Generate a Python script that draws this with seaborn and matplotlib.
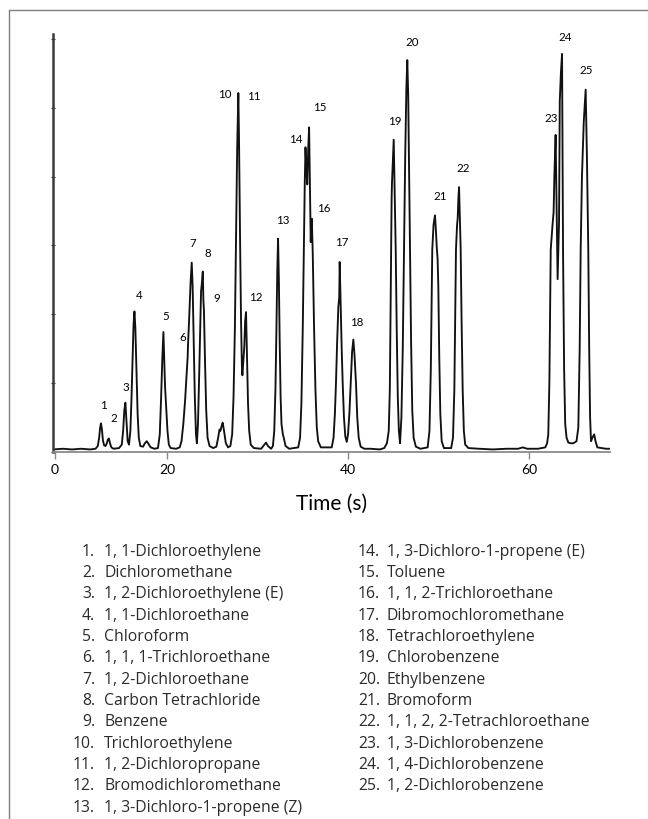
# Chromatogram of 25 volatile organic compounds with numbered peaks
import numpy as np
import pandas as pd
import matplotlib
matplotlib.use("Agg")
import matplotlib.pyplot as plt
from matplotlib.lines import Line2D
import seaborn as sns

# ==========================
# DATA
# ==========================

# detector trace: (time in s, signal in axis units)
trace = [
    (7.4, 0.03), (8.5, 0.04), (9.5, 0.03), (10.5, 0.04), (11.5, 0.03), (12.1, 0.04),
    # peaks 1, 2
    (12.35, 0.08), (12.5, 0.2), (12.6, 0.34), (12.7, 0.41), (12.8, 0.33), (12.92, 0.16),
    (13.05, 0.09), (13.2, 0.08), (13.35, 0.12), (13.45, 0.17), (13.58, 0.19), (13.7, 0.12),
    (13.85, 0.06), (14.1, 0.04),
    # peaks 3, 4
    (14.7, 0.05), (15.0, 0.1), (15.15, 0.3), (15.28, 0.6), (15.4, 0.71), (15.52, 0.45),
    (15.65, 0.15), (15.8, 0.1), (15.95, 0.3), (16.08, 0.8), (16.2, 1.4), (16.3, 1.85),
    (16.4, 2.04), (16.5, 1.8), (16.62, 1.2), (16.75, 0.55), (16.88, 0.2), (17.05, 0.08),
    (17.35, 0.07), (17.55, 0.12), (17.76, 0.15), (17.95, 0.11), (18.2, 0.06), (18.6, 0.04),
    # peak 5
    (19.0, 0.05), (19.2, 0.25), (19.35, 0.8), (19.48, 1.35), (19.6, 1.74), (19.7, 1.3),
    (19.78, 0.95), (19.82, 0.85), (19.92, 0.6), (20.05, 0.3), (20.2, 0.1), (20.4, 0.05),
    (21.0, 0.04),
    # peaks 6, 7
    (21.4, 0.06), (21.6, 0.15), (21.8, 0.4), (22.0, 0.75), (22.15, 1.1), (22.28, 1.38),
    (22.32, 1.55), (22.45, 1.95), (22.6, 2.45), (22.73, 2.75), (22.83, 2.4), (22.95, 1.6),
    (23.07, 0.8), (23.2, 0.25), (23.3, 0.12),
    # peaks 8, 9
    (23.42, 0.4), (23.55, 1.1), (23.68, 1.9), (23.76, 2.33), (23.85, 2.45), (23.95, 2.62),
    (24.02, 2.2), (24.08, 2.05), (24.2, 1.3), (24.33, 0.6), (24.48, 0.2), (24.7, 0.08),
    (25.1, 0.05), (25.45, 0.07), (25.65, 0.2), (25.8, 0.32), (25.9, 0.3), (26.05, 0.38),
    (26.15, 0.42), (26.3, 0.3), (26.5, 0.12), (26.75, 0.06),
    # peaks 10, 11, 12
    (27.0, 0.08), (27.2, 0.25), (27.35, 0.8), (27.5, 1.8), (27.62, 3.0), (27.75, 4.4),
    (27.88, 5.22), (27.95, 4.6), (27.99, 4.06), (28.08, 3.0), (28.18, 1.9), (28.28, 1.2),
    (28.33, 1.11), (28.42, 1.3), (28.54, 1.53), (28.63, 1.9), (28.73, 2.03), (28.82, 1.5),
    (28.95, 0.7), (29.08, 0.3), (29.25, 0.1), (29.6, 0.05),
    (30.4, 0.04), (30.7, 0.09), (30.94, 0.13), (31.15, 0.08), (31.5, 0.04),
    # peak 13
    (31.7, 0.08), (31.85, 0.3), (31.98, 0.9), (32.08, 1.7), (32.18, 2.6), (32.27, 3.1),
    (32.36, 2.5), (32.45, 1.6), (32.55, 0.8), (32.65, 0.4), (32.8, 0.25), (32.9, 0.2),
    (33.1, 0.08), (33.5, 0.04),
    # peaks 14, 15, 16
    (34.5, 0.06), (34.7, 0.2), (34.85, 0.7), (35.0, 1.8), (35.12, 3.0), (35.22, 3.9),
    (35.3, 4.43), (35.4, 4.1), (35.5, 3.89), (35.6, 4.4), (35.7, 4.72), (35.8, 3.8),
    (35.88, 3.05), (35.95, 3.3), (36.0, 3.39), (36.1, 2.9), (36.25, 1.8), (36.4, 0.9),
    (36.55, 0.35), (36.7, 0.15), (37.0, 0.06),
    # peaks 17, 18
    (38.2, 0.06), (38.4, 0.2), (38.55, 0.55), (38.67, 1.0), (38.8, 1.6), (38.93, 2.1),
    (39.0, 2.2), (39.03, 2.25), (39.08, 2.76), (39.18, 2.2), (39.3, 1.5), (39.41, 1.0),
    (39.55, 0.5), (39.7, 0.22), (39.86, 0.14), (40.0, 0.25), (40.15, 0.55), (40.3, 1.0),
    (40.45, 1.45), (40.59, 1.63), (40.72, 1.4), (40.88, 1.0), (41.02, 0.5), (41.18, 0.2),
    (41.4, 0.07), (41.8, 0.04), (42.5, 0.04), (43.5, 0.03),
    # peaks 19, 20
    (44.0, 0.05), (44.3, 0.12), (44.5, 0.3), (44.62, 0.9), (44.7, 2.0), (44.76, 2.94),
    (44.82, 3.7), (44.86, 3.92), (44.95, 4.2), (45.05, 4.54), (45.15, 3.8), (45.27, 2.94),
    (45.38, 1.8), (45.5, 0.8), (45.62, 0.3), (45.75, 0.12), (45.9, 0.5), (46.05, 1.5),
    (46.19, 2.94), (46.32, 4.3), (46.45, 5.3), (46.55, 5.7), (46.65, 5.2), (46.75, 4.1),
    (46.85, 2.94), (46.97, 1.6), (47.1, 0.6), (47.25, 0.2), (47.5, 0.07), (48.0, 0.04),
    # peaks 21, 22
    (48.8, 0.06), (49.0, 0.3), (49.15, 1.2), (49.31, 2.94), (49.45, 3.3), (49.61, 3.44),
    (49.72, 3.2), (49.8, 2.99), (49.9, 2.8), (49.98, 2.4), (50.08, 1.4), (50.2, 0.55),
    (50.35, 0.15), (50.6, 0.05), (51.4, 0.05), (51.6, 0.2), (51.75, 0.9), (51.85, 2.0),
    (51.93, 2.94), (52.05, 3.3), (52.12, 3.4), (52.2, 3.7), (52.27, 3.85), (52.36, 3.4),
    (52.45, 2.94), (52.55, 1.9), (52.67, 0.9), (52.8, 0.3), (52.95, 0.1), (53.3, 0.05),
    (54.5, 0.04), (56.0, 0.03), (57.5, 0.04), (58.8, 0.04), (59.3, 0.06), (59.8, 0.04),
    (61.0, 0.04),
    # peaks 23, 24
    (61.8, 0.06), (62.0, 0.12), (62.13, 0.25), (62.25, 1.0), (62.4, 2.94), (62.6, 3.3),
    (62.72, 3.49), (62.8, 4.0), (62.94, 4.61), (63.05, 3.5), (63.16, 2.51), (63.25, 3.0),
    (63.32, 3.35), (63.4, 5.1), (63.52, 5.5), (63.65, 5.79), (63.7, 4.5), (63.76, 2.94),
    (63.88, 1.2), (64.0, 0.4), (64.15, 0.2), (64.35, 0.13), (64.6, 0.12),
    # peak 25
    (64.9, 0.12), (65.25, 0.15), (65.45, 0.35), (65.6, 1.5), (65.71, 2.94), (65.85, 4.0),
    (66.05, 4.8), (66.26, 5.27), (66.4, 4.3), (66.55, 2.94), (66.65, 1.5), (66.75, 0.5),
    (66.85, 0.15), (67.0, 0.2), (67.2, 0.25), (67.35, 0.15), (67.55, 0.06), (68.0, 0.05),
    (68.5, 0.04), (68.95, 0.04),
]

peak_numbers = list(range(1, 26))

compounds = [
    "1, 1-Dichloroethylene", "Dichloromethane", "1, 2-Dichloroethylene (E)",
    "1, 1-Dichloroethane", "Chloroform", "1, 1, 1-Trichloroethane",
    "1, 2-Dichloroethane", "Carbon Tetrachloride", "Benzene",
    "Trichloroethylene", "1, 2-Dichloropropane", "Bromodichloromethane",
    "1, 3-Dichloro-1-propene (Z)", "1, 3-Dichloro-1-propene (E)", "Toluene",
    "1, 1, 2-Trichloroethane", "Dibromochloromethane", "Tetrachloroethylene",
    "Chlorobenzene", "Ethylbenzene", "Bromoform",
    "1, 1, 2, 2-Tetrachloroethane", "1, 3-Dichlorobenzene",
    "1, 4-Dichlorobenzene", "1, 2-Dichlorobenzene",
]

# x tick positions as drawn in the original (its "0" tick is not at t=0)
tick_pos = [7.62, 20, 40, 60]
tick_labels = ["0", "20", "40", "60"]

# ==========================
# LAYOUT (label positions in data units)
# ==========================
label_xy = [
    (12.98, 0.68), (14.09, 0.49), (15.41, 0.95), (16.94, 2.28), (19.89, 1.98),
    (21.74, 1.67), (22.84, 3.04), (24.53, 2.90), (25.49, 2.24), (26.33, 5.21),
    (29.61, 5.18), (29.80, 2.26), (32.74, 3.38), (34.22, 4.56), (36.83, 5.03),
    (37.35, 3.56), (39.34, 3.06), (40.96, 1.89), (45.20, 4.82), (47.09, 5.97),
    (50.18, 3.73), (52.74, 4.13), (62.40, 4.87), (64.00, 6.04), (66.30, 5.56),
]

df = pd.DataFrame(trace, columns=["time", "signal"])

# ==========================
# FIGURE
# ==========================
sns.set_theme(style="white")
plt.rcParams["font.family"] = ["Lato", "DejaVu Sans"]

W, H = 648, 820
fig = plt.figure(figsize=(W / 100, H / 100), dpi=100)
ax = fig.add_axes([53 / W, 1 - 452.5 / H, (610 - 53) / W, (452.5 - 35) / H])

sns.lineplot(data=df, x="time", y="signal", ax=ax, color="#111111",
             linewidth=1.35, estimator=None, sort=False)

ax.set_xlim(7.4, 68.95)
ax.set_ylim(0, 6.08)

for sp in ["top", "right"]:
    ax.spines[sp].set_visible(False)
ax.spines["left"].set_color("#3a3a3a")
ax.spines["left"].set_linewidth(1.8)
ax.spines["bottom"].set_color("#8a8a8a")
ax.spines["bottom"].set_linewidth(1.3)

ax.set_xticks(tick_pos, labels=tick_labels)
ax.set_yticks(range(7), labels=[])
ax.tick_params(axis="x", direction="out", length=5, width=1, color="#888888",
               labelsize=10, pad=3, labelcolor="black", bottom=True)
ax.tick_params(axis="y", direction="inout", length=3, width=0.8, color="#333333",
               left=True)

ax.set_xlabel("Time (s)", fontsize=15, labelpad=13, color="black")
ax.set_ylabel("")

for num, (lx, ly) in zip(peak_numbers, label_xy):
    ax.text(lx, ly, str(num), ha="center", va="center", fontsize=8.3, color="black")

# compound list below the chart
list_font = ["Open Sans", "DejaVu Sans"]
for i, (num, name) in enumerate(zip(peak_numbers, compounds)):
    if i < 13:
        xn, xt, row = 95, 104, i
    else:
        xn, xt, row = 380, 387, i - 13
    yb = 1 - (555.5 + 21.35 * row) / H
    fig.text(xn / W, yb, f"{num}.", ha="right", va="baseline", fontsize=11.3,
             color="#2b2b2b", family=list_font)
    fig.text(xt / W, yb, name, ha="left", va="baseline", fontsize=11.3,
             color="#2b2b2b", family=list_font)

# thin frame at the top and left edge
fig.add_artist(Line2D([9 / W, 1], [1 - 10.5 / H, 1 - 10.5 / H], color="#7f7f7f", lw=1))
fig.add_artist(Line2D([9 / W, 9 / W], [0, 1 - 10.5 / H], color="#7f7f7f", lw=1))

fig.savefig("out.png", dpi=100)
